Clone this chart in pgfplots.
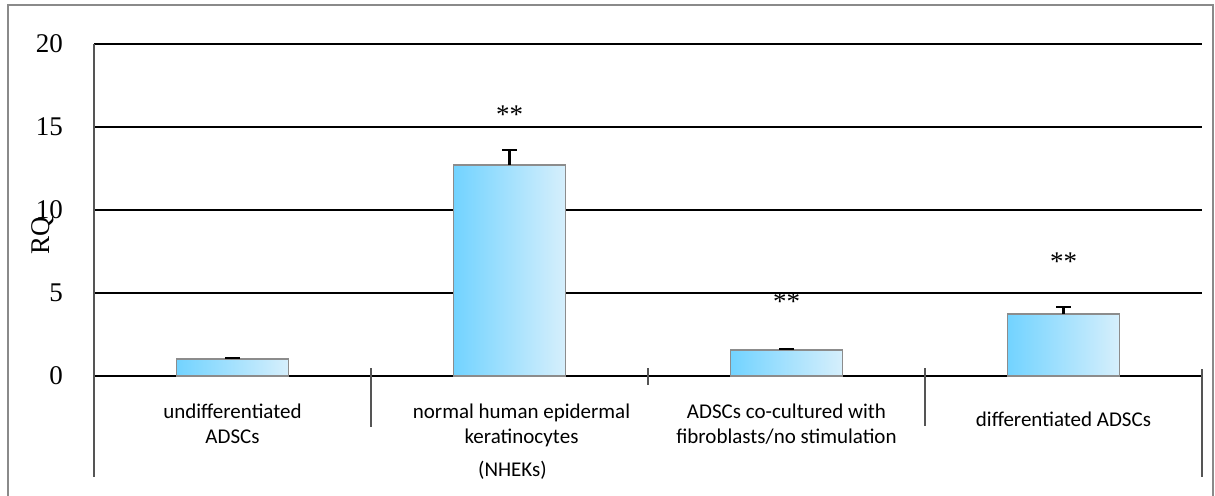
\documentclass[border=0pt]{standalone}
\usepackage{pgfplots}
\pgfplotsset{compat=1.18}
\usepackage{pgfplotstable}
\usepackage{fontspec}
\setmainfont{Liberation Serif}
\newfontfamily\carlito{Carlito}
\definecolor{barL}{HTML}{72D3FF}
\definecolor{barM}{HTML}{98DEFF}
\definecolor{barR}{HTML}{D6EFFC}
\definecolor{barEdge}{HTML}{8C8C8C}
\definecolor{frameC}{HTML}{8A8A8A}
\definecolor{sepC}{HTML}{555555}

\pgfplotstableread{
x y e
0 1.02 0.05
1 12.70 0.90
2 1.57 0.06
3 3.73 0.45
}\rqdata

\begin{document}
\begin{tikzpicture}[x=1pt,y=1pt]
\path[use as bounding box] (-47,-59.5) rectangle (560.5,188);
\draw[frameC, line width=0.8pt] (-43,-62) rectangle (559.5,185.5);
\begin{axis}[
  at={(0,0)}, anchor=south west,
  scale only axis, width=554pt, height=166pt,
  xmin=-0.5, xmax=3.5, ymin=0, ymax=20,
  axis x line*=bottom, axis y line*=left,
  x axis line style={black, line width=0.6pt},
  y axis line style={draw=none},
  ytick={0,5,10,15,20},
  ymajorgrids, grid style={black, line width=0.6pt},
  major tick length=0pt,
  /pgf/number format/assume math mode=true,
  yticklabel style={font=\fontsize{13.5}{13.5}\selectfont, xshift=-12pt},
  ylabel={RQ},
  ylabel style={at={(axis description cs:-0.046,0.4217)}, anchor=center, font=\fontsize{13.5}{13.5}\selectfont},
  xtick={0,1,2,3},
  xticklabels={{undifferentiated\\ADSCs},{\hspace*{12pt}normal human epidermal\\\hspace*{12pt}keratinocytes\\[4pt]\hspace*{3pt}(NHEKs)},{ADSCs co-cultured with\\fibroblasts/no stimulation},{\rule{0pt}{11pt}differentiated ADSCs}},
  xticklabel style={font=\carlito\fontsize{10.5}{12.5}\selectfont, align=center, anchor=north, yshift=-10.5pt},
  clip=false,
  bar shading/.style={ybar, bar shift=0pt, bar width=56pt, draw=barEdge, line width=0.8pt,
    left color=barL, middle color=barM, right color=barR, forget plot},
]
\addplot[bar shading] coordinates {(0,1.02)};
\addplot[bar shading] coordinates {(1,12.70)};
\addplot[bar shading] coordinates {(2,1.57)};
\addplot[bar shading] coordinates {(3,3.73)};
\addplot[draw=none, mark=none, forget plot,
  error bars/.cd, y dir=plus, y explicit,
  error bar style={draw=black, line width=1.1pt},
  error mark options={draw=black, rotate=90, mark size=3.7pt, line width=1.1pt}]
  table[x=x, y=y, y error=e] {\rqdata};
\node[anchor=base, font=\fontsize{13.5}{13.5}\selectfont] at (axis cs:1,15.24) {**};
\node[anchor=base, font=\fontsize{13.5}{13.5}\selectfont] at (axis cs:2,3.92) {**};
\node[anchor=base, font=\fontsize{13.5}{13.5}\selectfont] at (axis cs:3,6.33) {**};
\draw[sepC, line width=0.6pt] (axis cs:-0.5,20) -- ++(0pt,-216.5pt);
\draw[sepC, line width=0.6pt] (axis cs:0.5,0) ++(0pt,4pt) -- ++(0pt,-29.5pt);
\draw[sepC, line width=0.6pt] (axis cs:1.5,0) ++(0pt,4pt) -- ++(0pt,-8.5pt);
\draw[sepC, line width=0.6pt] (axis cs:2.5,0) ++(0pt,4pt) -- ++(0pt,-29pt);
\draw[sepC, line width=0.6pt] (axis cs:3.5,0) ++(0pt,3.5pt) -- ++(0pt,-54pt);
\end{axis}
\end{tikzpicture}
\end{document}
